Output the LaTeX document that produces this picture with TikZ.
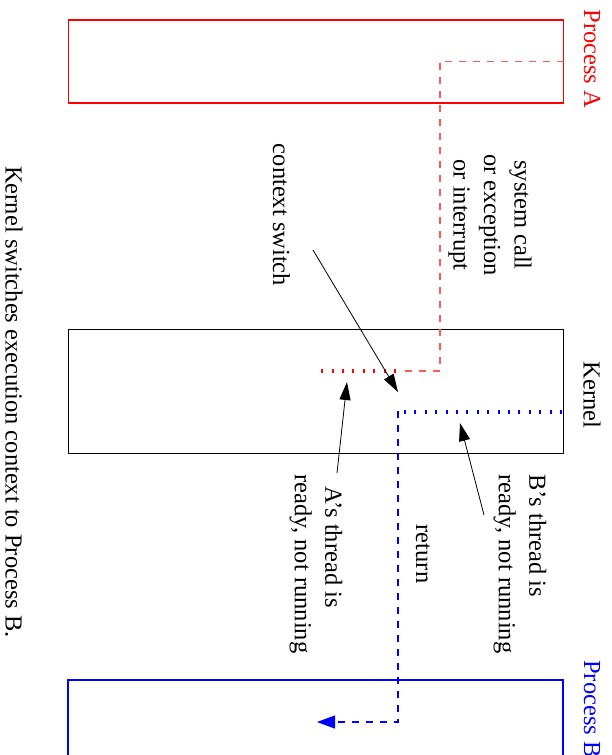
\documentclass[tikz,border=0pt]{standalone}
\usepackage{fontspec}
\setmainfont{Liberation Serif}
\usepackage{tikz}
\usetikzlibrary{arrows.meta}
\tikzset{
    x=1pt, y=-1pt, semithick,
    proc/.style = {draw, line width=1.7pt, inner sep=0pt, minimum width=495pt},
    kern/.style = {draw, line width=0.8pt, inner sep=0pt, minimum width=495pt},
    lbl/.style = {rotate=-90, inner sep=0pt, font=\fontsize{24.5}{30.5}\selectfont},
    ptr/.style = {-{Triangle[length=18pt,width=11pt]}, line width=0.8pt},
    dsh/.style = {dash pattern=on 7pt off 7pt, line width=1.1pt},
    dots/.style = {dash pattern=on 2pt off 8.4pt, line width=3.5pt}
}

\begin{document}
\begin{tikzpicture}
	\useasboundingbox (0,0) rectangle (612,755);
	\clip (0,0) rectangle (612,755);
	% the three boxes
	\node[proc, red, minimum height=83pt] (1) at (316,61.5) {};
	\node[kern, minimum height=124pt] (2) at (315.5,391) {};
	\node[proc, blue, minimum height=100pt] (3) at (315.5,730) {};
	\node[lbl, red] (4) at (592,59) {Process A};
	\node[lbl] (5) at (592,395) {Kernel};
	\node[lbl, blue] (6) at (592,709) {Process B};

	% texts
	\node[lbl, align=center] (7) at (490,215) {system call\\or exception\\or interrupt};
	\node[lbl] (8) at (281.5,215) {context switch};
	\node[lbl, align=left] (9) at (520,564) {B’s thread is\\ready, not running};
	\node[lbl, align=left] (10) at (316,564) {\hspace*{12pt}A’s thread is\\ready, not running};
	\node[lbl] (11) at (423,554) {return};
	\node[lbl] (12) at (14,402) {Kernel switches execution context to Process B.};

	% paths through the kernel
	\coordinate (13) at (440,371);
	\coordinate (14) at (400,371);
	\coordinate (15) at (396,371);
	\coordinate (16) at (321,371);
	\draw[dsh, red!65] (1.east) -| (13) -- (14);
	\draw[dots, red] (15) -- (16);
	\coordinate (17) at (562,412);
	\coordinate (18) at (404,412);
	\coordinate (19) at (398,411);
	\coordinate (20) at (317,722);
	\draw[dots, blue] (17) -- (18);
	\draw[dsh, blue, -{Triangle[length=18pt,width=13pt]}] (19) |- (20);

	% pointers
	\coordinate (21) at (313,250);
	\coordinate (22) at (398,392);
	\coordinate (23) at (337,473);
	\coordinate (24) at (347,382);
	\coordinate (25) at (484,515);
	\coordinate (26) at (460,423);
	\draw[ptr] (21) -- (22);
	\draw[ptr] (23) -- (24);
	\draw[ptr] (25) -- (26);
\end{tikzpicture}
\end{document}
